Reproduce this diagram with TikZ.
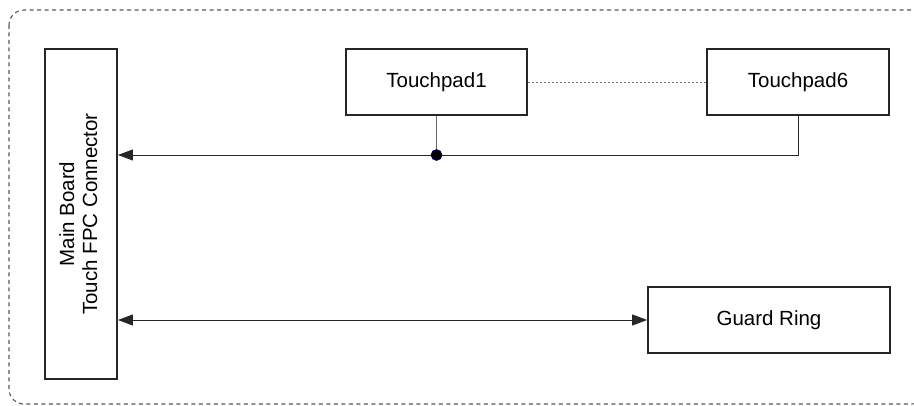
\documentclass[tikz,border=0pt]{standalone}
\usepackage{fontspec}
\setmainfont{Liberation Sans}
\usetikzlibrary{arrows.meta}
\begin{document}
\begin{tikzpicture}[x=1pt,y=-1pt,
  box/.style={draw=black!85, line width=1.8pt, fill=white, inner sep=0pt,
              font=\fontsize{20.5}{23}\selectfont},
  conn/.style={draw=black!85, line width=0.9pt},
  stub/.style={draw=black!60, line width=0.9pt},
  tip/.style={-{Triangle[length=15pt,width=11pt]}},
  tips/.style={{Triangle[length=15pt,width=11pt]}-{Triangle[length=15pt,width=11pt]}},
  frame/.style={draw=black!65, line width=1.1pt, dash pattern=on 4pt off 3.5pt, rounded corners=15pt}
]
\useasboundingbox (0,0) rectangle (914,406);
\draw[frame] (9,10) rectangle (927,404);

\node[box, minimum width=72pt, minimum height=330pt] (mb) at (81,214)
  {\rotatebox{90}{\begin{tabular}{@{}c@{}}Main Board\\Touch FPC Connector\end{tabular}}};
\node[box, minimum width=181pt, minimum height=66pt] (tp1) at (436.5,82) {Touchpad1};
\node[box, minimum width=182pt, minimum height=66pt] (tp6) at (798,82) {Touchpad6};
\node[box, minimum width=242pt, minimum height=66pt] (gr) at (769,320) {Guard Ring};

\coordinate (dot) at (436.5,155);

\draw[black!55, line width=0.8pt, dash pattern=on 2pt off 2pt] (tp1.east) -- (tp6.west);
\draw[conn, tip] (tp6.south) |- (dot -| mb.east);
\draw[stub] (tp1.south) -- (dot);
\fill[black, draw=blue!40!black, line width=0.6pt] (dot) circle (5.5pt);
\draw[conn, tips] (gr.west -| mb.east) -- (gr.west);
\end{tikzpicture}
\end{document}
